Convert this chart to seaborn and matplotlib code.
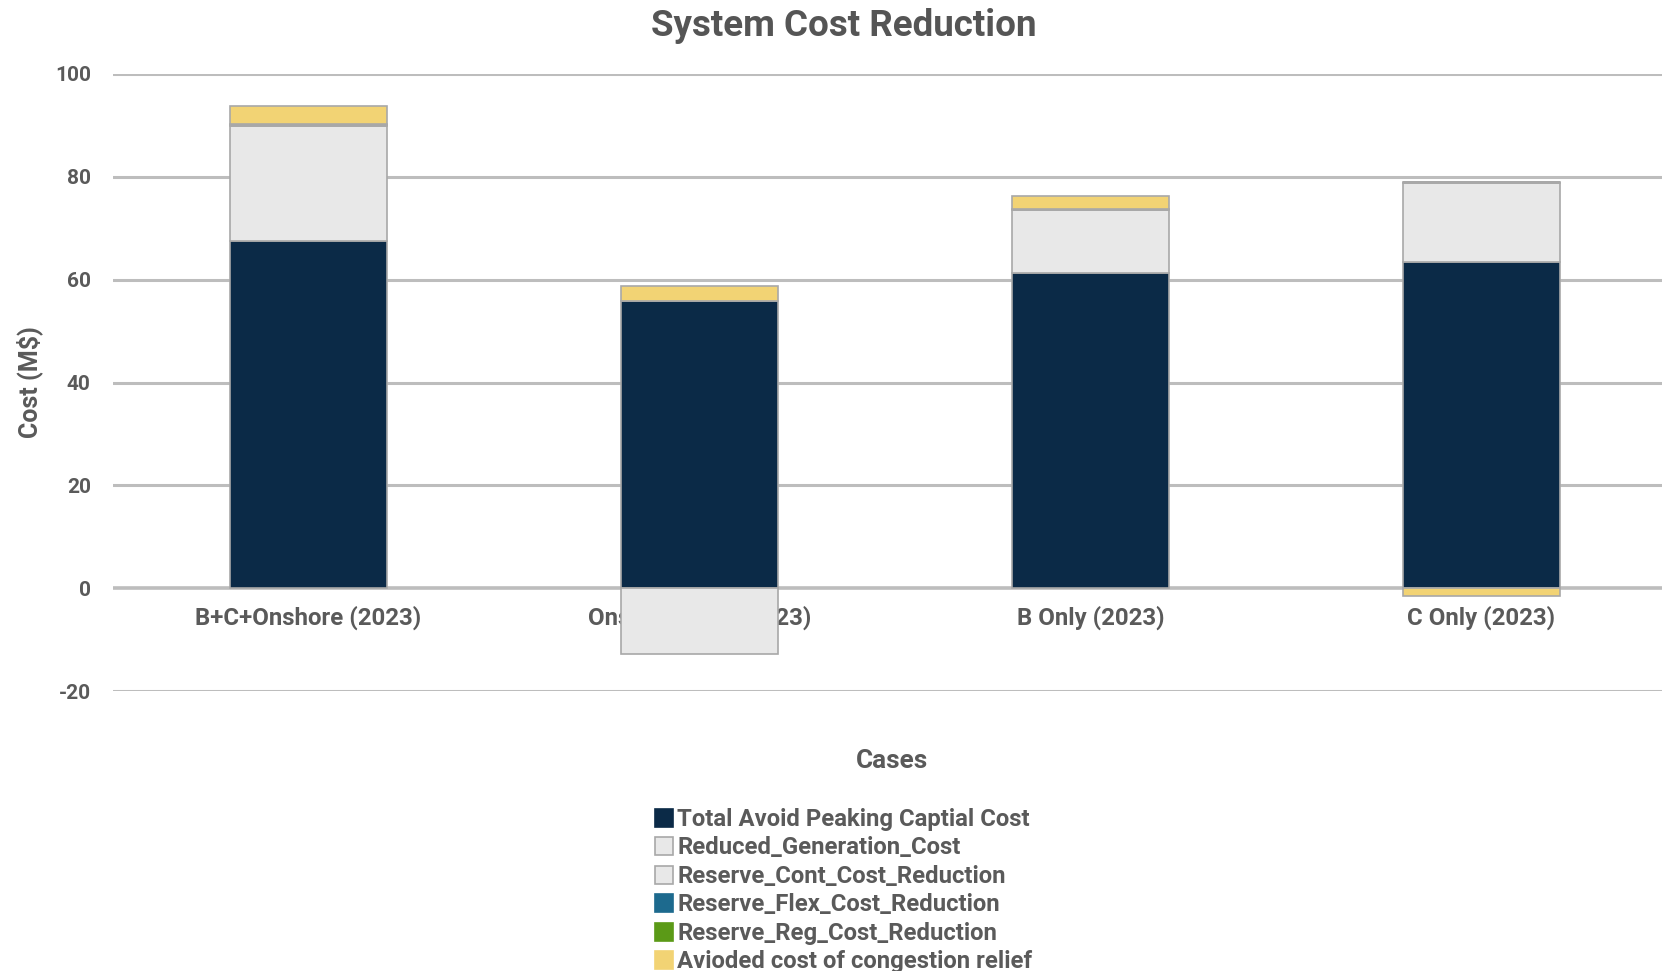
import matplotlib
matplotlib.use("Agg")
import matplotlib.pyplot as plt
from matplotlib.patches import Patch
import numpy as np
import seaborn as sns

# Cases and stacked cost components (M$)
categories = ["B+C+Onshore (2023)", "Onshore Only (2023)", "B Only (2023)", "C Only (2023)"]
peaking_capital = [67.6, 55.8, 61.2, 63.4]
reduced_generation = [22.3, -12.8, 12.3, 15.4]
reserve_cont = [0.2, 0.0, 0.1, 0.1]
reserve_flex = [0.0, 0.0, 0.0, 0.0]
reserve_reg = [0.1, 0.1, 0.1, 0.1]
congestion_relief = [3.5, 2.8, 2.6, -1.4]

series_names = [
    "Total Avoid Peaking Captial Cost",
    "Reduced_Generation_Cost",
    "Reserve_Cont_Cost_Reduction",
    "Reserve_Flex_Cost_Reduction",
    "Reserve_Reg_Cost_Reduction",
    "Avioded cost of congestion relief",
]
series_values = [peaking_capital, reduced_generation, reserve_cont,
                 reserve_flex, reserve_reg, congestion_relief]
series_colors = ["#0b2a47", "#e8e8e8", "#e8e8e8", "#1d6a8e", "#5b9a17", "#f2d374"]
y_ticks = [-20, 0, 20, 40, 60, 80, 100]

sns.set_theme(style="white")
plt.rcParams["font.family"] = ["Roboto", "DejaVu Sans"]

text_color = "#5a5a5a"
edge_color = "#a8a8a8"

fig = plt.figure(figsize=(16.62, 9.71), dpi=100)
ax = fig.add_axes([0.068, 0.288, 0.941, 0.636])

pos_base = np.zeros(len(categories))
neg_base = np.zeros(len(categories))
for name, vals, col in zip(series_names, series_values, series_colors):
    vals = np.asarray(vals, dtype=float)
    bottoms = np.where(vals >= 0, pos_base, neg_base)
    sns.barplot(x=categories, y=vals, bottom=bottoms, color=col, width=0.4,
                edgecolor=edge_color, linewidth=1.2, errorbar=None,
                saturation=1, ax=ax, zorder=3)
    pos_base += np.where(vals > 0, vals, 0)
    neg_base += np.where(vals < 0, vals, 0)

ax.set_ylim(-20, 100)
ax.set_xlim(-0.5, len(categories) - 0.5)
ax.set_yticks(y_ticks)
ax.set_yticklabels([str(t) for t in y_ticks], fontsize=15, color=text_color,
                   fontweight="bold")
ax.tick_params(axis="y", length=0, pad=16)
ax.set_xticks([])
ax.set_xlabel("")
ax.set_ylabel("")
for t in y_ticks:
    ax.axhline(t, color="#bdbdbd", lw=2.2 if t != 0 else 2.6, zorder=1)
for s in ax.spines.values():
    s.set_visible(False)

# Category labels sit just under the zero line, behind the bars
for i, c in enumerate(categories):
    ax.text(i, -5.8, c, ha="center", va="center", fontsize=17.3,
            color=text_color, fontweight="bold", zorder=2)

fig.text(0.508, 0.973, "System Cost Reduction", ha="center", va="center",
         fontsize=26.5, fontweight="bold", color="#555555")
fig.text(0.537, 0.216, "Cases", ha="center", va="center", fontsize=18.8,
         color=text_color, fontweight="bold")
fig.text(0.018, 0.607, "Cost (M$)", ha="center", va="center", rotation=90,
         fontsize=18, color=text_color, fontweight="bold")

handles = [Patch(facecolor=c, edgecolor=edge_color if c == "#e8e8e8" else c,
                 linewidth=1.2) for c in series_colors]
fig.legend(handles, series_names, loc="upper left",
           bbox_to_anchor=(0.394, 0.168), frameon=False,
           handlelength=0.78, handleheight=0.78, handletextpad=0.15,
           labelspacing=0.23, borderaxespad=0, borderpad=0,
           labelcolor=text_color, prop={"weight": "bold", "size": 17.2})

fig.savefig("out.png", dpi=100)
